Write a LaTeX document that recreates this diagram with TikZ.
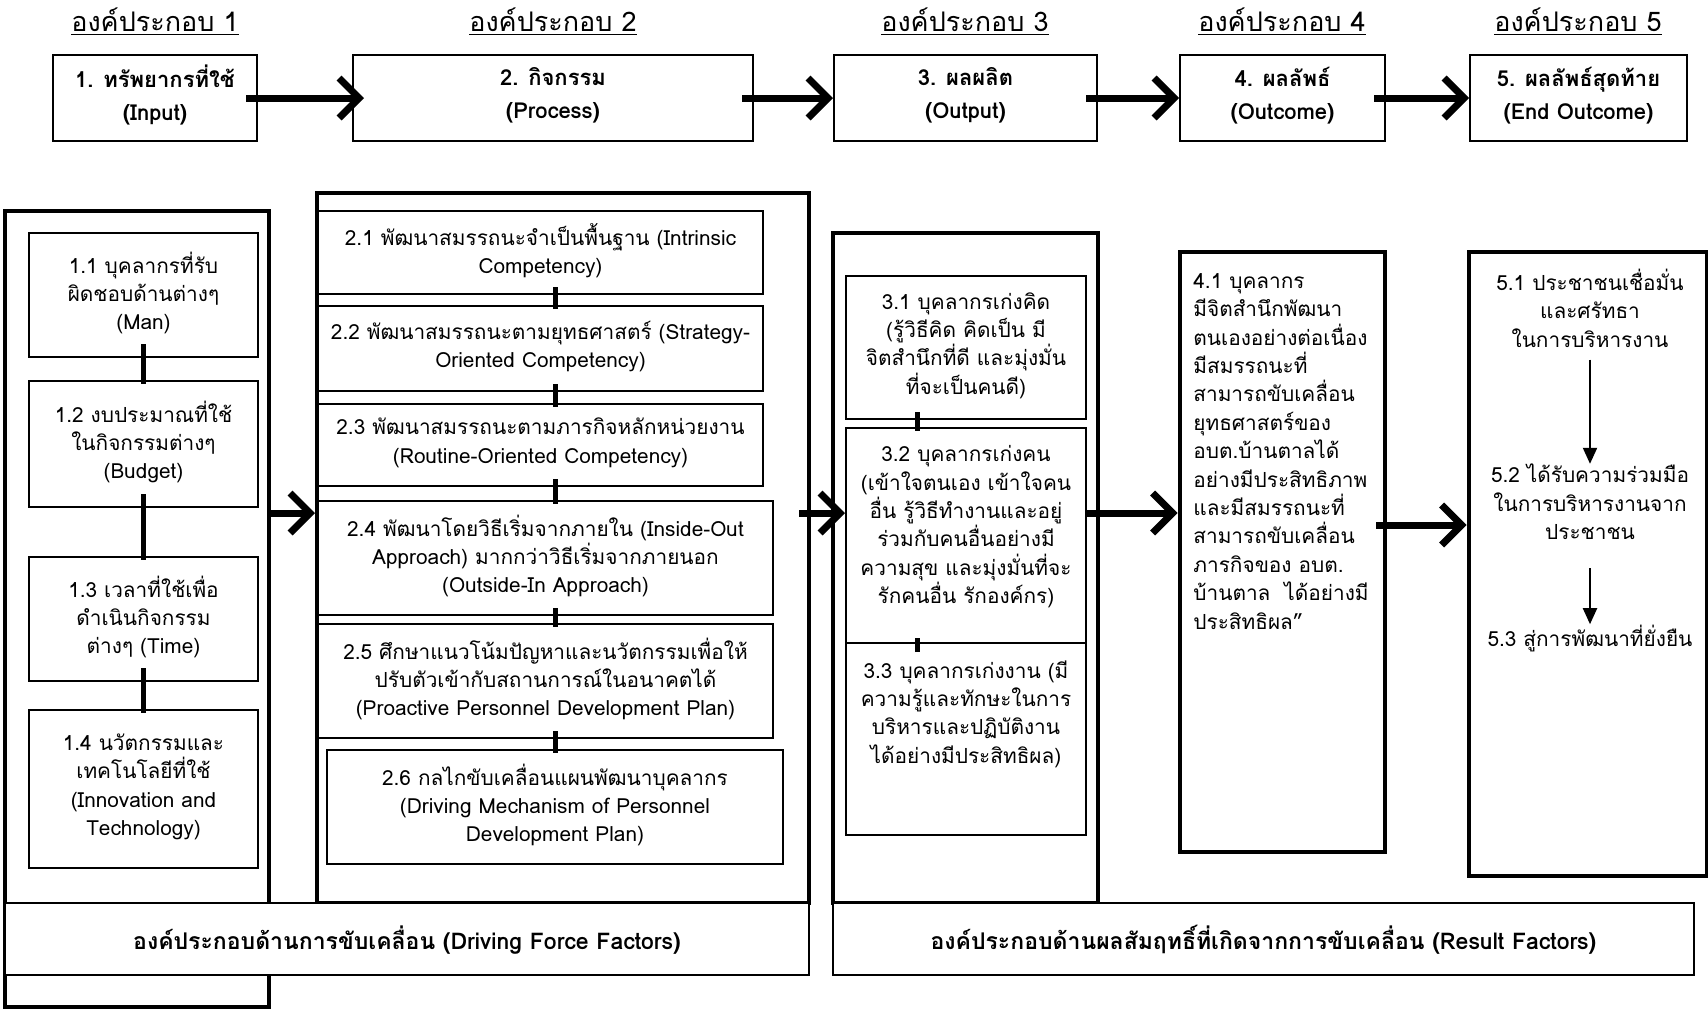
\documentclass[tikz,border=0pt]{standalone}
\usepackage{fontspec}
\setmainfont[Script=Thai]{Loma}
\usepackage{tikz}
\usetikzlibrary{positioning,fit,arrows.meta}

\tikzset{
  head/.style={inner sep=1pt, font=\fontsize{13.5}{15}\selectfont},
  topbox/.style={draw, line width=1pt, inner sep=0pt},
  toptxt/.style={align=center, inner sep=0pt, yshift=1.4pt, font=\bfseries\fontsize{11}{16.5}\selectfont},
  frame/.style={draw, line width=2pt, inner sep=0pt},
  inbox/.style={draw, line width=1pt, inner sep=0pt},
  intxt/.style={align=center, inner sep=0pt, yshift=#1, font=\fontsize{10.4}{14.2}\selectfont},
  intxt/.default=1pt,
  txt/.style={align=center, inner sep=0pt, font=\fontsize{10.4}{14.2}\selectfont},
  link/.style={line width=2.5pt, shorten <=-7pt, shorten >=-2pt},
  bigarrow/.style={line width=3.5pt, -{Straight Barb[length=10pt,width=20pt]}},
  thinarrow/.style={line width=1pt, -{Triangle[length=8pt,width=7pt]}},
  labelbox/.style={draw, fill=white, line width=1pt, inner sep=0pt},
  labtxt/.style={inner sep=0pt, yshift=-0.5pt, font=\bfseries\fontsize{11.5}{14}\selectfont}
}

\begin{document}
\begin{tikzpicture}[x=0.5pt,y=-0.5pt]
\useasboundingbox (0,0) rectangle (1708,1009);

% Headers
\foreach \n/\x in {1/155,2/553,3/965,4/1282,5/1578}
  \node[head] (h\n) at (\x,22) {\underline{องค์ประกอบ \n}};

% Top row
\node[topbox, fit={(53,55) (257,141)}, label={[toptxt]center:{1. ทรัพยากรที่ใช้\\(Input)}}] (tb1) {};
\node[topbox, fit={(353,55) (753,141)}, label={[toptxt]center:{2. กิจกรรม\\(Process)}}] (tb2) {};
\node[topbox, fit={(834,55) (1097,141)}, label={[toptxt]center:{3. ผลผลิต\\(Output)}}] (tb3) {};
\node[topbox, fit={(1180,55) (1385,141)}, label={[toptxt]center:{4. ผลลัพธ์\\(Outcome)}}] (tb4) {};
\node[topbox, fit={(1470,55) (1687,141)}, label={[toptxt]center:{5. ผลลัพธ์สุดท้าย\\(End Outcome)}}] (tb5) {};
\draw[bigarrow, shorten <=-6pt, shorten >=-6pt] (tb1) -- (tb2);
\foreach \a/\b in {tb2/tb3,tb3/tb4,tb4/tb5}
  \draw[bigarrow, shorten <=-6pt] (\a) -- (\b);

% Outer frames
\node[frame, fit={(5,211) (269,1007)}] (f1) {};
\node[frame, fit={(317,193) (809,903)}] (f2) {};
\node[frame, fit={(833,233) (1098,903)}] (f3) {};
\node[frame, line width=2.4pt, fit={(1180,252) (1385,852)}] (f4) {};
\node[frame, line width=2.4pt, fit={(1469,252) (1707,876)}] (f5) {};

% Inputs
\node[inbox, fit={(29,233) (258,357)}, label={[intxt]center:{1.1 บุคลากรที่รับ\\ผิดชอบด้านต่างๆ\\(Man)}}] (b11) {};
\node[inbox, fit={(29,381) (258,507)}, label={[intxt]center:{1.2 งบประมาณที่ใช้\\ในกิจกรรมต่างๆ\\(Budget)}}] (b12) {};
\node[inbox, fit={(29,557) (258,681)}, label={[intxt]center:{1.3 เวลาที่ใช้เพื่อ\\ดำเนินกิจกรรม\\ต่างๆ (Time)}}] (b13) {};
\node[inbox, fit={(29,710) (258,868)}, label={[intxt]center:{1.4 นวัตกรรมและ\\เทคโนโลยีที่ใช้\\(Innovation and\\Technology)}}] (b14) {};
\foreach \a/\b in {b11/b12,b12/b13,b13/b14}
  \draw[link] (\a.south) -- (\b.north);

% Process
\node[inbox, fit={(318,211) (763,294)}, label={[intxt]center:{2.1 พัฒนาสมรรถนะจำเป็นพื้นฐาน (Intrinsic\\Competency)}}] (b21) {};
\node[inbox, fit={(318,306) (763,391)}, label={[intxt]center:{2.2 พัฒนาสมรรถนะตามยุทธศาสตร์ (Strategy-\\Oriented Competency)}}] (b22) {};
\node[inbox, fit={(318,404) (763,486)}, label={[intxt]center:{2.3 พัฒนาสมรรถนะตามภารกิจหลักหน่วยงาน\\(Routine-Oriented Competency)}}] (b23) {};
\node[inbox, fit={(318,501) (773,615)}, label={[intxt]center:{2.4 พัฒนาโดยวิธีเริ่มจากภายใน (Inside-Out\\Approach) มากกว่าวิธีเริ่มจากภายนอก\\(Outside-In Approach)}}] (b24) {};
\node[inbox, fit={(318,624) (773,738)}, label={[intxt]center:{2.5 ศึกษาแนวโน้มปัญหาและนวัตกรรมเพื่อให้\\ปรับตัวเข้ากับสถานการณ์ในอนาคตได้\\(Proactive Personnel Development Plan)}}] (b25) {};
\node[inbox, fit={(327,750) (783,864)}, label={[intxt]center:{2.6 กลไกขับเคลื่อนแผนพัฒนาบุคลากร\\(Driving Mechanism of Personnel\\Development Plan)}}] (b26) {};
\foreach \a/\b in {b21/b22,b22/b23,b23/b24,b24/b25,b25/b26}
  \draw[link, shorten <=-4pt] (\a.south -| b26) -- (\b.north -| b26);

% Output
\node[inbox, fit={(846,276) (1086,419)}, label={[intxt]center:{3.1 บุคลากรเก่งคิด\\(รู้วิธีคิด คิดเป็น มี\\จิตสำนึกที่ดี และมุ่งมั่น\\ที่จะเป็นคนดี)}}] (b31) {};
\node[inbox, fit={(846,428) (1086,643)}, label={[intxt=4.3pt]center:{3.2 บุคลากรเก่งคน\\(เข้าใจตนเอง เข้าใจคน\\อื่น รู้วิธีทำงานและอยู่\\ร่วมกับคนอื่นอย่างมี\\ความสุข และมุ่งมั่นที่จะ\\รักคนอื่น รักองค์กร)}}] (b32) {};
\node[inbox, fit={(846,643) (1086,835)}] (b33) {};
\node[txt, below=9pt of b33.north] (t33) {3.3 บุคลากรเก่งงาน (มี\\ความรู้และทักษะในการ\\บริหารและปฏิบัติงาน\\ได้อย่างมีประสิทธิผล)};
\foreach \a/\b in {b31/b32,b32/b33}
  \draw[link, shorten <=-4pt] ([xshift=-24.5pt]\a.south) -- ([xshift=-24.5pt]\b.north);

% Outcome
\node[txt, align=left, anchor=north west] (t41) at (1193,273) {4.1 บุคลากร\\มีจิตสำนึกพัฒนา\\ตนเองอย่างต่อเนื่อง\\มีสมรรถนะที่\\สามารถขับเคลื่อน\\ยุทธศาสตร์ของ\\อบต.บ้านตาลได้\\อย่างมีประสิทธิภาพ\\และมีสมรรถนะที่\\สามารถขับเคลื่อน\\ภารกิจของ อบต.\\บ้านตาล~~ได้อย่างมี\\ประสิทธิผล”};

% End outcome
\node[txt] (t51) at (1590,308) {5.1 ประชาชนเชื่อมั่น\\และศรัทธา\\ในการบริหารงาน};
\node[txt] (t52) at (1590,502) {5.2 ได้รับความร่วมมือ\\ในการบริหารงานจาก\\ประชาชน};
\node[txt] (t53) at (1590,638) {5.3 สู่การพัฒนาที่ยั่งยืน};
\draw[thinarrow, shorten <=6pt] (t51) -- (t52);
\draw[thinarrow, shorten <=14pt] (t52) -- (t53);

% Middle arrows
\coordinate (m) at (0,513);
\coordinate (n) at (0,525);
\draw[bigarrow] (f1.east |- m) -- (f2.west |- m);
\draw[bigarrow, shorten <=-6pt] (f2.east |- m) -- (b32.west |- m);
\draw[bigarrow] (b32.east |- m) -- (f4.west |- m);
\draw[bigarrow, shorten <=-5.5pt] (f4.east |- n) -- (f5.west |- n);

% Factor labels
\node[labelbox, fit={(5,903) (809,975)}, label={[labtxt]center:องค์ประกอบด้านการขับเคลื่อน (Driving Force Factors)}] (l1) {};
\node[labelbox, fit={(833,903) (1694,975)}, label={[labtxt]center:องค์ประกอบด้านผลสัมฤทธิ์ที่เกิดจากการขับเคลื่อน (Result Factors)}] (l2) {};
\end{tikzpicture}
\end{document}
